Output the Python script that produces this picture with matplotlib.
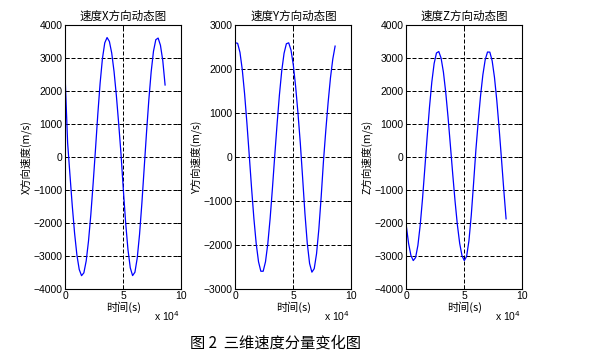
import matplotlib
matplotlib.use("Agg")
import matplotlib.pyplot as plt
import matplotlib.transforms as mtransforms
import numpy as np

# time in units of 1e4 s, one sample every 2000 s
t = np.round(np.arange(44) * 0.2, 1)

vx = [2280, 425, -541, -1483, -2316, -2978, -3417, -3605, -3519, -3159,
      -2553, -1753, -803, 219, 1284, 2233, 2980, 3457, 3620, 3501,
      3150, 2593, 1864, 1011, 93, -988, -1994, -2812, -3366, -3603,
      -3501, -3069, -2349, -1407, -333, 739, 1733, 2578, 3205, 3554,
      3604, 3385, 2923, 2180]

vy = [2595, 2584, 2378, 1983, 1432, 764, 37, -711, -1401, -1976,
      -2387, -2603, -2603, -2388, -1976, -1402, -711, 36, 751, 1408,
      1957, 2356, 2574, 2595, 2428, 2086, 1594, 992, 315, -476,
      -1290, -1964, -2426, -2624, -2544, -2204, -1640, -907, -84, 609,
      1245, 1797, 2225, 2520]

vz = [-2091, -2633, -2993, -3146, -3057, -2687, -2069, -1265, -336, 614,
      1508, 2270, 2833, 3151, 3195, 2994, 2571, 1954, 1199, 350,
      -514, -1334, -2054, -2622, -2996, -3147, -3018, -2542, -1772, -798,
      219, 1075, 1852, 2490, 2945, 3180, 3177, 2915, 2412, 1711,
      868, -48, -992, -1880]

titles = ["速度X方向动态图", "速度Y方向动态图", "速度Z方向动态图"]
ylabels = ["X方向速度(m/s)", "Y方向速度(m/s)", "Z方向速度(m/s)"]
ylims = [(-4000, 4000), (-3000, 3000), (-4000, 4000)]
series = [vx, vy, vz]

cjk = ["Noto Sans CJK SC", "DejaVu Sans"]
num_font = ["Liberation Sans", "DejaVu Sans"]

fig = plt.figure(figsize=(5.92, 3.62), dpi=100)
lefts = [0.1103, 0.3975, 0.6863]

for i in range(3):
    ax = fig.add_axes([lefts[i], 0.2025, 0.196, 0.7284])
    ax.plot(t, series[i], color="#0000ff", linewidth=0.9)
    ax.set_xlim(0, 10)
    ax.set_ylim(*ylims[i])
    ax.set_xticks([0, 5, 10])
    ax.set_yticks(np.arange(ylims[i][0], ylims[i][1] + 1, 1000))
    ax.grid(True, color="black", linestyle=(0, (4, 2)), linewidth=0.72)
    ax.tick_params(direction="in", top=True, right=True, length=3,
                   width=0.72, labelsize=7.5, pad=2)
    for lab in ax.get_xticklabels() + ax.get_yticklabels():
        lab.set_family(num_font)
    for sp in ax.spines.values():
        sp.set_linewidth(0.8)
    ax.set_title(titles[i], fontsize=8.3, family=cjk, pad=4)
    ax.set_ylabel(ylabels[i], fontsize=7.6, family=cjk)
    ax.yaxis.set_label_coords(-0.29, 0.5)
    ax.set_xlabel("时间(s)", fontsize=8, family=cjk, labelpad=0)
    tr = mtransforms.blended_transform_factory(ax.transAxes, ax.transAxes)
    ax.text(0.99, -0.105, r"x 10$^4$", transform=tr, ha="right", va="center",
            fontsize=7.5, family=num_font)

fig.text(0.465, 0.052, "图 2  三维速度分量变化图", fontsize=11, family=cjk,
         ha="center", va="center")

fig.savefig("out.png", dpi=100)
